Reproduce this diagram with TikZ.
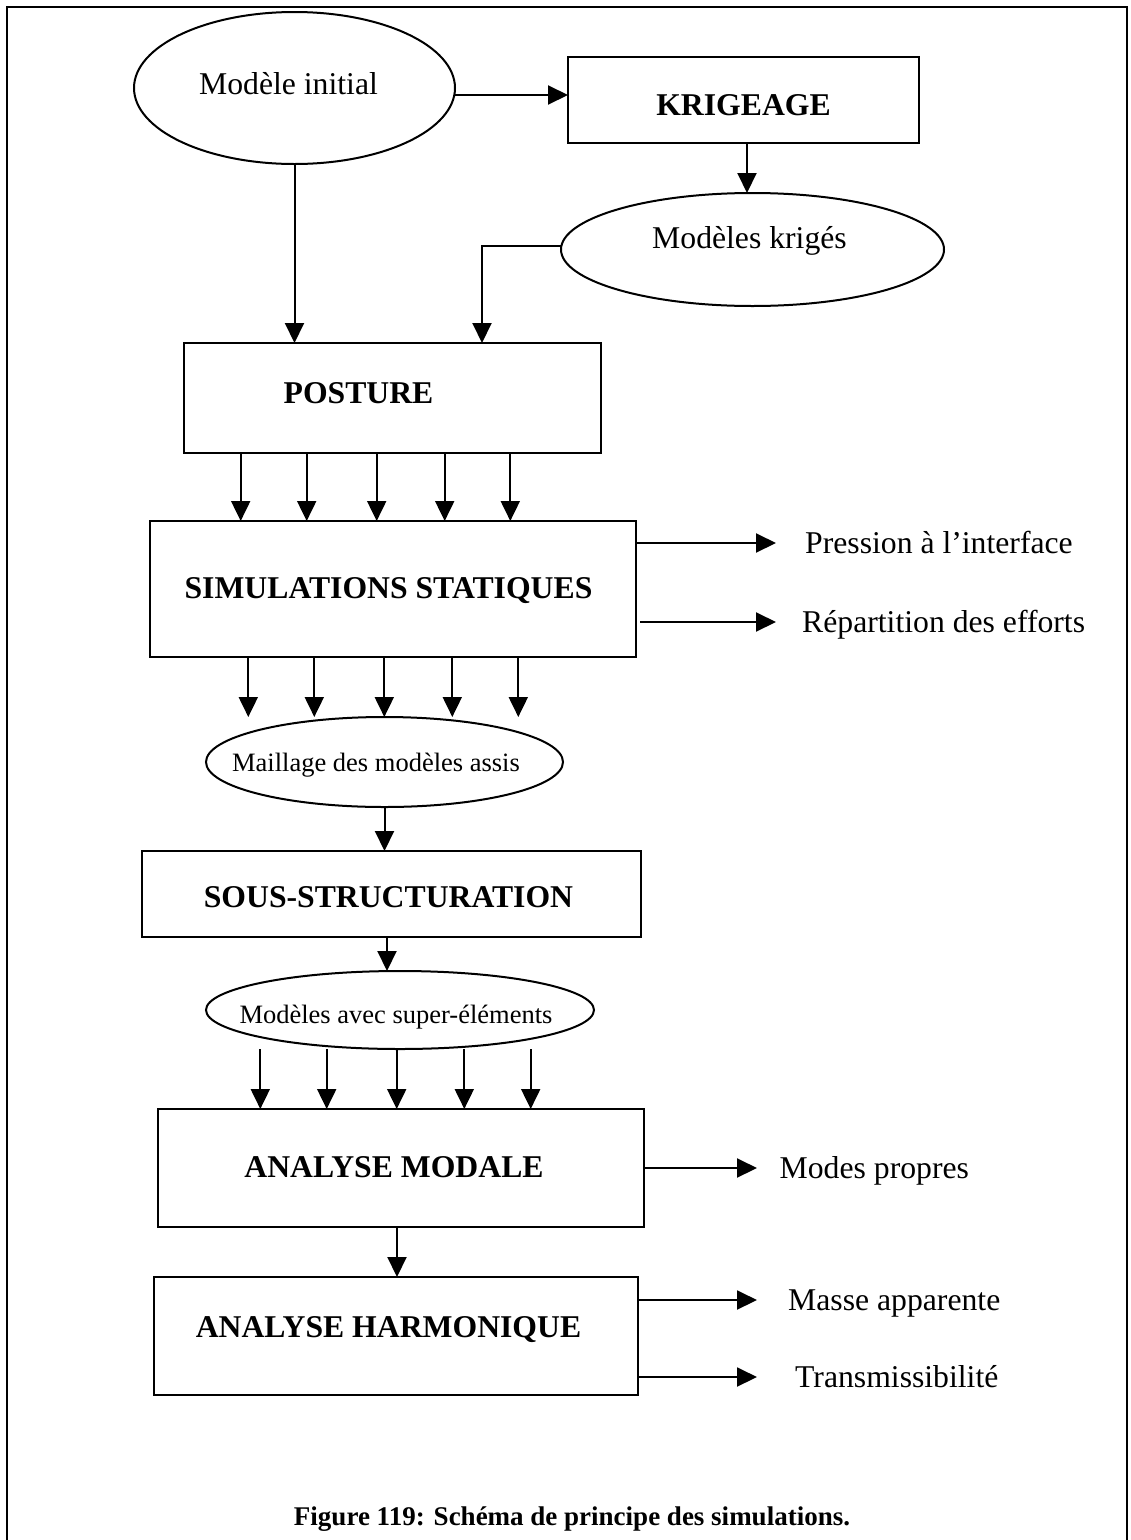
\documentclass[tikz,border=0pt]{standalone}
\usepackage{fontspec}
\setmainfont{Liberation Serif}
\usetikzlibrary{arrows.meta,shapes.geometric,calc}
\begin{document}
\begin{tikzpicture}[x=1pt,y=-1pt,
  boxn/.style={draw,line width=2.4pt,rectangle,inner sep=0pt,outer sep=0pt},
  ell/.style={draw,line width=2pt,ellipse,inner sep=0pt,outer sep=0pt},
  txt/.style={inner sep=0pt,text height=21pt,text depth=0pt,font=\fontsize{31.7pt}{36pt}\selectfont},
  btxt/.style={txt,font=\fontsize{31.7pt}{36pt}\selectfont\bfseries},
  stxt/.style={inner sep=0pt,text height=17.5pt,text depth=0pt,font=\fontsize{26.5pt}{30pt}\selectfont},
  conn/.style={line width=2pt,-{Triangle[length=20pt,width=19pt]}},
  plain/.style={line width=2pt}]
\useasboundingbox (0,0) rectangle (1131,1540);
\draw[line width=2.6pt] (7,1540) -- (7,7) -- (1127,7) -- (1127,1540);

% shapes
\node[ell,minimum width=321pt,minimum height=152pt] (init) at (294.5,88) {};
\node[txt] (initT) at (288.5,84) {Modèle initial};
\node[boxn,minimum width=351pt,minimum height=86pt] (krig) at (743.5,100) {};
\node[btxt] (krigT) at (743.5,105) {KRIGEAGE};
\node[ell,minimum width=383pt,minimum height=113pt] (kriges) at (752.5,249.5) {};
\node[txt] (krigesT) at (749.5,238) {Modèles krigés};
\node[boxn,minimum width=417pt,minimum height=110pt] (posture) at (392.5,398) {};
\node[btxt] (postureT) at (358.5,393) {POSTURE};
\node[boxn,minimum width=486pt,minimum height=136pt] (sim) at (393,589) {};
\node[btxt] (simT) at (388.5,588) {SIMULATIONS STATIQUES};
\node[ell,minimum width=357pt,minimum height=90pt] (maille) at (384.5,762) {};
\node[stxt] (mailleT) at (376,763) {Maillage des modèles assis};
\node[boxn,minimum width=499pt,minimum height=86pt] (sous) at (391.5,894) {};
\node[btxt] (sousT) at (388.5,897) {SOUS-STRUCTURATION};
\node[ell,minimum width=388pt,minimum height=78pt] (super) at (400,1010) {};
\node[stxt] (superT) at (396,1015) {Modèles avec super-éléments};
\node[boxn,minimum width=486pt,minimum height=118pt] (modale) at (401,1168) {};
\node[btxt] (modaleT) at (394,1167) {ANALYSE MODALE};
\node[boxn,minimum width=484pt,minimum height=118pt] (harm) at (396,1336) {};
\node[btxt] (harmT) at (388.5,1327) {ANALYSE HARMONIQUE};

% output labels
\node[txt,anchor=west] (pres) at (805,543) {Pression à l’interface};
\node[txt,anchor=west] (rep) at (802,622) {Répartition des efforts};
\node[txt,anchor=west] (modes) at (779.5,1168) {Modes propres};
\node[txt,anchor=west] (masse) at (788,1300) {Masse apparente};
\node[txt,anchor=west] (trans) at (795,1377) {Transmissibilité};

% caption
\node[inner sep=0pt,text height=18pt,text depth=0pt,font=\fontsize{27pt}{31pt}\selectfont\bfseries] (cap) at (572,1516) {Figure 119: Schéma de principe des simulations.};

% connectors
\draw[conn] ([yshift=-7pt]init.east) -- ([yshift=-7pt]init.east -| krig.west);
\draw[conn] ([xshift=3.5pt]krig.south) -- ([xshift=3.5pt]krig.south |- kriges.north);
\coordinate (k1) at (482,0);
\draw[conn] ([yshift=4pt]kriges.west) -| (posture.north -| k1);
\draw[conn] (init.south) -- (init.south |- posture.north);

\foreach \x [count=\i] in {240.7,306.7,376.7,444.7,510.3}{
  \coordinate (pa\i) at (\x,0);
  \draw[conn] (posture.south -| pa\i) -- (sim.north -| pa\i);
}
\foreach \x [count=\i] in {248.3,314.3,384.3,452.3,518.3}{
  \coordinate (sa\i) at (\x,0);
  \draw[conn] (sim.south -| sa\i) -- (maille.north -| sa\i);
}
\draw[conn] (maille.south) -- (maille.south |- sous.north);
\coordinate (s1) at (387,0);
\draw[conn] (sous.south -| s1) -- (super.north -| s1);
\foreach \x [count=\i] in {260.3,326.7,396.7,464.3,530.7}{
  \coordinate (ma\i) at (\x,0);
  \draw[conn] (super.south -| ma\i) -- (modale.north -| ma\i);
}
\coordinate (m1) at (397,0);
\draw[conn] (modale.south -| m1) -- (harm.north -| m1);

% right arrows
\coordinate (tip1) at (776,0);
\coordinate (tip2) at (757,0);
\draw[conn] (sim.east |- pres) -- (tip1 |- pres);
\draw[conn] ([xshift=4pt]sim.east |- rep) -- (tip1 |- rep);
\draw[conn] (modale.east |- modes) -- (tip2 |- modes);
\draw[conn] (harm.east |- masse) -- (tip2 |- masse);
\draw[conn] (harm.east |- trans) -- (tip2 |- trans);
\end{tikzpicture}
\end{document}
